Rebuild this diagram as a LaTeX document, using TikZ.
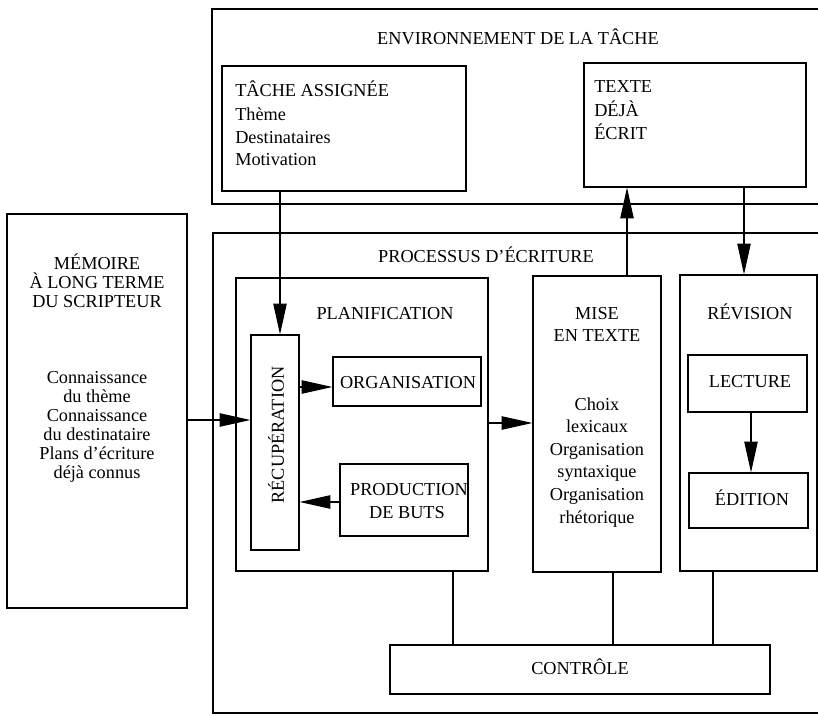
\documentclass[tikz,border=0pt]{standalone}
\usepackage{fontspec}
\setmainfont{Liberation Serif}
\usetikzlibrary{arrows.meta,fit}
\begin{document}
\begin{tikzpicture}[x=0.75pt,y=-0.75pt,
  box/.style={draw,line width=0.9pt,inner sep=0pt},
  frame/.style={line width=0.9pt},
  lbl/.style={inner sep=0pt,anchor=base,font=\fontsize{13.7}{16}\selectfont},
  lbll/.style={lbl,anchor=base west},
  arr/.style={line width=0.8pt,-{Triangle[length=23pt,width=10pt]}},
  ln/.style={line width=0.8pt}]
\fill[white] (0,0) rectangle (818,716);
\useasboundingbox (0,0) rectangle (818,716);

% environnement de la tache (open on the right)
\draw[frame] (818,9) -- (212,9) -- (212,204) -- (818,204);
\node[lbl] (envt) at (518,45) {ENVIRONNEMENT DE LA TÂCHE};

\node[box,fit={(222,66) (466,191)}] (tache) {};
\node[lbll] (ta1) at (235,97) {TÂCHE ASSIGNÉE};
\node[lbll] (ta2) at (235,121) {Thème};
\node[lbll] (ta3) at (235,144) {Destinataires};
\node[lbll] (ta4) at (235,166) {Motivation};

\node[box,fit={(584,63) (806,187)}] (texte) {};
\node[lbll] (te1) at (594,93) {TEXTE};
\node[lbll] (te2) at (594,117) {DÉJÀ};
\node[lbll] (te3) at (594,140) {ÉCRIT};

% memoire a long terme
\node[box,fit={(7,214) (187,608)}] (mem) {};
\node[lbl] (me1) at (97,270) {MÉMOIRE};
\node[lbl] (me2) at (97,289) {À LONG TERME};
\node[lbl] (me3) at (97,308) {DU SCRIPTEUR};
\node[lbl] (me4) at (97,384) {Connaissance};
\node[lbl] (me5) at (97,403) {du thème};
\node[lbl] (me6) at (97,422) {Connaissance};
\node[lbl] (me7) at (97,441) {du destinataire};
\node[lbl] (me8) at (97,460) {Plans d’écriture};
\node[lbl] (me9) at (97,479) {déjà connus};

% processus d'ecriture (open on the right)
\draw[frame] (818,233) -- (213,233) -- (213,713) -- (818,713);
\node[lbl] (prt) at (486,263) {PROCESSUS D’ÉCRITURE};

% planification
\node[box,fit={(236,278) (488,571)}] (plan) {};
\node[lbl] (plt) at (385,320) {PLANIFICATION};
\node[box,fit={(251,335) (299,550)}] (recup) {};
\node[inner sep=0pt,rotate=90,font=\fontsize{13.7}{16}\selectfont] (rct) at (276,435) {RÉCUPÉRATION};
\node[box,fit={(333,357) (481,406)}] (org) {};
\node[lbl] (ort) at (408,389) {ORGANISATION};
\node[box,fit={(340,464) (468,536)}] (prod) {};
\node[lbl] (pd1) at (409,496) {PRODUCTION};
\node[lbl] (pd2) at (407,519) {DE BUTS};

% mise en texte
\node[box,fit={(533,276) (661,572)}] (mise) {};
\node[lbl] (mi1) at (597,320) {MISE};
\node[lbl] (mi2) at (597,342) {EN TEXTE};
\node[lbl] (mi3) at (597,411) {Choix};
\node[lbl] (mi4) at (597,433) {lexicaux};
\node[lbl] (mi5) at (597,456) {Organisation};
\node[lbl] (mi6) at (597,478) {syntaxique};
\node[lbl] (mi7) at (597,501) {Organisation};
\node[lbl] (mi8) at (597,523) {rhétorique};

% revision
\node[box,fit={(680,275) (817,571)}] (rev) {};
\node[lbl] (rvt) at (750,320) {RÉVISION};
\node[box,fit={(688,355) (807,412)}] (lect) {};
\node[lbl] (lct) at (750,388) {LECTURE};
\node[box,fit={(689,473) (808,528)}] (edit) {};
\node[lbl] (edt) at (752,506) {ÉDITION};

% controle
\node[box,fit={(390,645) (770,694)}] (ctrl) {};
\node[lbl] (ctt) at (580,674) {CONTRÔLE};

% guide coordinates for connectors
\coordinate (xa) at (280,0);
\coordinate (xb) at (627,0);
\coordinate (xc) at (744,0);
\coordinate (xd) at (751,0);
\coordinate (xe) at (453,0);
\coordinate (xf) at (613,0);
\coordinate (xg) at (713,0);
\coordinate (ya) at (0,420);
\coordinate (yb) at (0,387);
\coordinate (yc) at (0,502);
\coordinate (yd) at (0,423);

% connectors
\draw[arr] (tache.south -| xa) -- (recup.north -| xa);
\draw[arr] (mem.east |- ya) -- (recup.west |- ya);
\draw[arr] (recup.east |- yb) -- (org.west |- yb);
\draw[arr] (prod.west |- yc) -- (recup.east |- yc);
\draw[arr] (plan.east |- yd) -- (mise.west |- yd);
\draw[arr] (mise.north -| xb) -- (texte.south -| xb);
\draw[arr] (texte.south -| xc) -- (rev.north -| xc);
\draw[arr] (lect.south -| xd) -- (edit.north -| xd);
\draw[ln] (plan.south -| xe) -- (ctrl.north -| xe);
\draw[ln] (mise.south -| xf) -- (ctrl.north -| xf);
\draw[ln] (rev.south -| xg) -- (ctrl.north -| xg);
\end{tikzpicture}
\end{document}
